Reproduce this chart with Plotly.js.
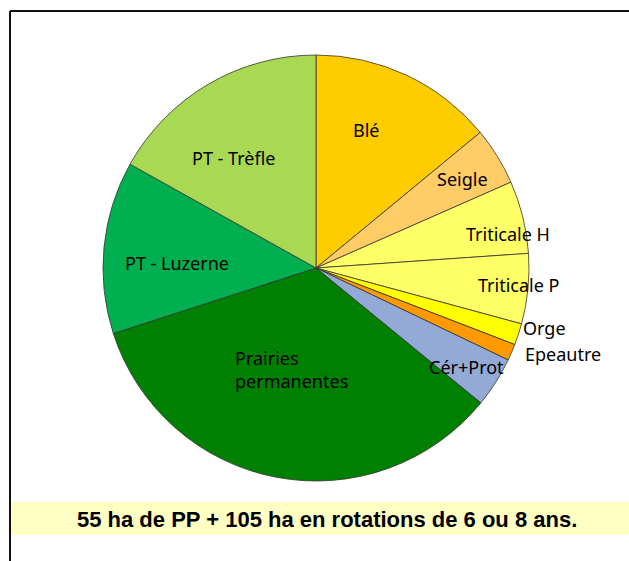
<!DOCTYPE html>
<html>
<head>
<meta charset="utf-8">
<script src="https://cdn.plot.ly/plotly-3.0.1.min.js"></script>
<style>html,body{margin:0;padding:0;background:#fff;}#chart{width:629px;height:561px;}</style>
</head>
<body>
<div id="chart"></div>
<script>
// Data (ha)
const categories = ["Blé", "Seigle", "Triticale H", "Triticale P", "Orge", "Epeautre", "Cér+Prot", "Prairies<br>permanentes", "PT - Luzerne", "PT - Trèfle"];
const hectares = [22.4, 7.0, 8.8, 8.5, 2.6, 2.0, 6.1, 54.5, 20.9, 27.0];
const colors = ["#FFCC00", "#FFCC66", "#FFFF66", "#FFFF66", "#FFFF00", "#FF9900", "#93A9D6", "#008000", "#00B050", "#A9D853"];
const caption = "55 ha de PP + 105 ha en rotations de 6 ou 8 ans.";

const W = 629, H = 561;
const px = x => x / W;
const py = y => 1 - y / H;

// label positions (pixels) - layout only
const labelPos = [[366,130],[462,179],[508,234],[518,285],[544,328],[563,354],[466,367],[291,369],[177,263],[233,158]];
const labelAlign = ["center","center","center","center","center","center","center","left","center","center"];

const cx = 316, cy = 268, r = 213;

const trace = {
  type: "pie",
  values: hectares,
  labels: categories,
  marker: { colors: colors, line: { color: "#333333", width: 0.8 } },
  sort: false,
  direction: "clockwise",
  rotation: 0,
  textinfo: "none",
  hoverinfo: "label+value",
  showlegend: false,
  domain: { x: [px(cx - r), px(cx + r)], y: [py(cy + r), py(cy - r)] }
};

const annotations = categories.map((c, i) => ({
  x: px(labelPos[i][0]), y: py(labelPos[i][1]), xref: "paper", yref: "paper",
  text: c, showarrow: false, align: labelAlign[i],
  xanchor: "center", yanchor: "middle",
  font: { family: "Noto Sans, Open Sans, sans-serif", size: 18, color: "#000" }
}));
annotations.push({
  x: px(327), y: py(519), xref: "paper", yref: "paper", text: "<b>" + caption + "</b>",
  showarrow: false, xanchor: "center", yanchor: "middle",
  font: { family: "Liberation Sans, Arial, sans-serif", size: 22, color: "#000" }
});

const layout = {
  width: W, height: H,
  margin: { l: 0, r: 0, t: 0, b: 0 },
  paper_bgcolor: "#fff",
  showlegend: false,
  annotations: annotations,
  shapes: [
    { type: "rect", xref: "paper", yref: "paper", x0: px(10), x1: px(629), y0: py(535), y1: py(502), fillcolor: "#FFFFC4", line: { width: 0 }, layer: "below" },
    { type: "line", xref: "paper", yref: "paper", x0: px(10), x1: px(629), y0: py(11), y1: py(11), line: { color: "#111", width: 2 } },
    { type: "line", xref: "paper", yref: "paper", x0: px(10), x1: px(10), y0: py(11), y1: py(561), line: { color: "#111", width: 2 } }
  ]
};

Plotly.newPlot("chart", [trace], layout, { displayModeBar: false, staticPlot: true });
</script>
</body>
</html>
